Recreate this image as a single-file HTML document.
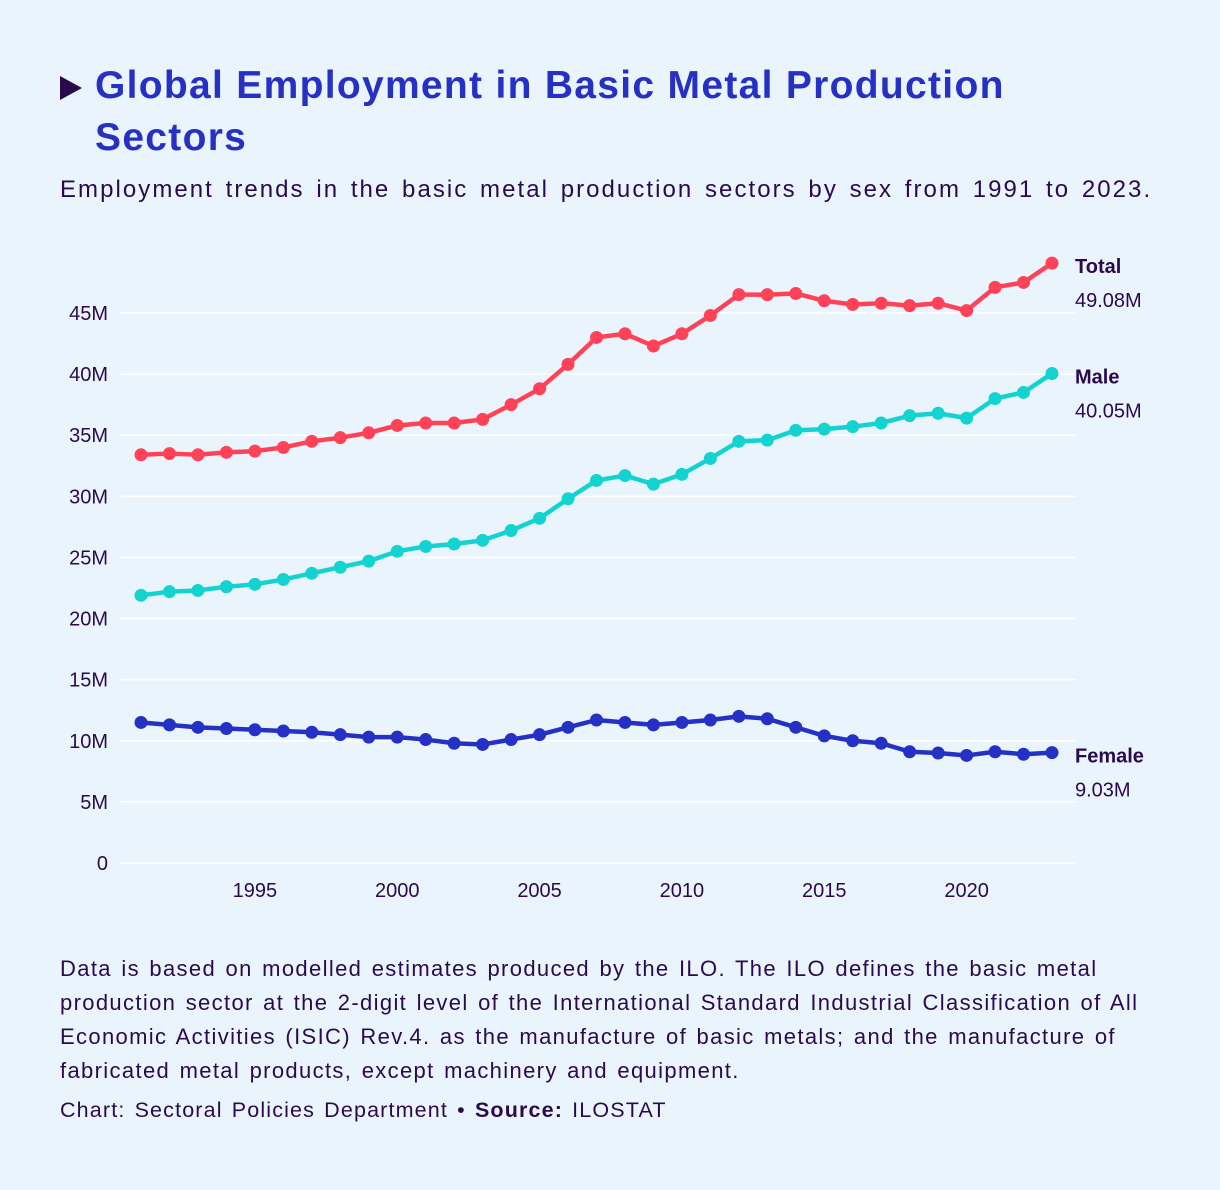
<!DOCTYPE html>
<html><head><meta charset="utf-8"><style>
body{margin:0;background:#eaf4fd;font-family:"Liberation Sans",sans-serif;color:#2a0a4d;}
#wrap{position:relative;width:1220px;height:1190px;overflow:hidden;}
.title{position:absolute;left:95px;top:60px;font-size:39px;font-weight:bold;color:#2631c4;line-height:52px;width:1100px;letter-spacing:1.3px;}
.tri{position:absolute;left:60px;top:76px;width:0;height:0;border-left:22px solid #2a0a4d;border-top:12px solid transparent;border-bottom:12px solid transparent;}
.sub{position:absolute;left:60px;top:176px;font-size:24px;letter-spacing:2.05px;word-spacing:3px;white-space:nowrap;}
.note{position:absolute;left:60px;top:952px;width:1150px;font-size:22px;line-height:34px;letter-spacing:1.35px;word-spacing:2px;white-space:nowrap;}
.credit{position:absolute;left:60px;top:1098px;font-size:21.5px;letter-spacing:1.15px;word-spacing:2px;}
svg text{font-family:"Liberation Sans",sans-serif;fill:#2a0a4d;}
</style></head><body><div id="wrap">
<div class="tri"></div>
<div class="title">Global Employment in Basic Metal Production<br>Sectors</div>
<div class="sub">Employment trends in the basic metal production sectors by sex from 1991 to 2023.</div>
<svg id="chart" width="1220" height="1190" style="position:absolute;left:0;top:0"></svg>
<div class="note">Data is based on modelled estimates produced by the ILO. The ILO defines the basic metal<br>production sector at the 2-digit level of the International Standard Industrial Classification of All<br>Economic Activities (ISIC) Rev.4. as the manufacture of basic metals; and the manufacture of<br>fabricated metal products, except machinery and equipment.</div>
<div class="credit">Chart: Sectoral Policies Department • <b>Source:</b> ILOSTAT</div>
</div>
<script>
const years=[];for(let y=1991;y<=2023;y++)years.push(y);
const totalValues=[33.4,33.5,33.4,33.6,33.7,34.0,34.5,34.8,35.2,35.8,36.0,36.0,36.3,37.5,38.8,40.8,43.0,43.3,42.3,43.3,44.8,46.5,46.5,46.6,46.0,45.7,45.8,45.6,45.8,45.2,47.1,47.5,49.08];
const maleValues=[21.9,22.2,22.3,22.6,22.8,23.2,23.7,24.2,24.7,25.5,25.9,26.1,26.4,27.2,28.2,29.8,31.3,31.7,31.0,31.8,33.1,34.5,34.6,35.4,35.5,35.7,36.0,36.6,36.8,36.4,38.0,38.5,40.05];
const femaleValues=[11.5,11.3,11.1,11.0,10.9,10.8,10.7,10.5,10.3,10.3,10.1,9.8,9.7,10.1,10.5,11.1,11.7,11.5,11.3,11.5,11.7,12.0,11.8,11.1,10.4,10.0,9.8,9.1,9.0,8.8,9.1,8.9,9.03];
const yTicks=[0,5,10,15,20,25,30,35,40,45];
const xTicks=[1995,2000,2005,2010,2015,2020];
const seriesNames=["Total","Male","Female"];
const ns="http://www.w3.org/2000/svg";
const svg=document.getElementById('chart');
const x=y=>141+(y-1991)*(1052-141)/32;
const yv=v=>863-v*12.222;
function mk(t,a){const e=document.createElementNS(ns,t);for(const k in a)e.setAttribute(k,a[k]);svg.appendChild(e);return e;}
yTicks.forEach(t=>{
 const l=mk('line',{x1:120,x2:1075,y1:yv(t),y2:yv(t),stroke:'#ffffff','stroke-width':1.5});
 
 
 const tx=mk('text',{x:108,y:yv(t)+7,'text-anchor':'end','font-size':20});
 tx.textContent=t===0?'0':t+'M';
 
 
});
xTicks.forEach(t=>{
 const tx=mk('text',{x:x(t),y:897,'text-anchor':'middle','font-size':20});
 tx.textContent=t;
 
 
});
const series=[[totalValues,'#ff4257'],[maleValues,'#12d3d0'],[femaleValues,'#2530c4']];
series.forEach(([vals,c],i)=>{
 const p=mk('path',{d:vals.map((v,j)=>(j?'L':'M')+x(years[j])+' '+yv(v)).join(''),fill:'none',stroke:c,'stroke-width':4.5,'stroke-linejoin':'round'});
 
 
 vals.forEach((v,j)=>{
  const d=mk('circle',{cx:x(years[j]),cy:yv(v),r:6.5,fill:c});
  
  
 });
 const last=vals[vals.length-1];
 const n=mk('text',{x:1075,y:yv(last)+10,'font-size':20,'font-weight':'bold'});
 n.textContent=seriesNames[i];
 
 
 const vt=mk('text',{x:1075,y:yv(last)+44,'font-size':20});
 vt.textContent=last.toFixed(2)+'M';
 
 
});
</script></body></html>
